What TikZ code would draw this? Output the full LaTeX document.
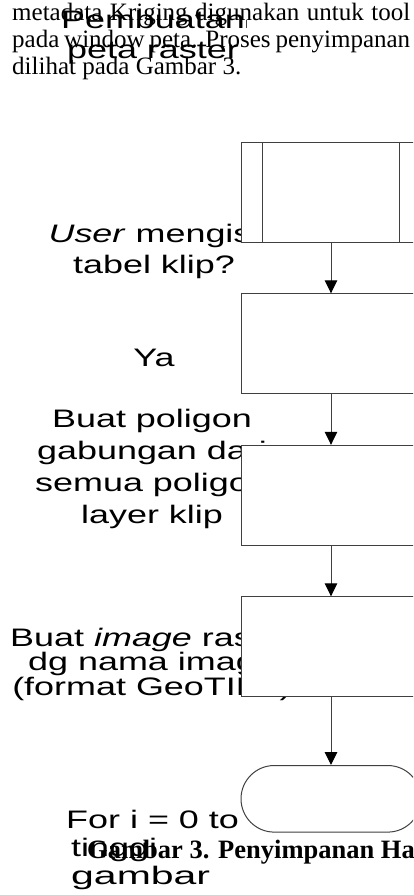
\documentclass[tikz,border=0pt]{standalone}
\usepackage{fontspec}
\setmainfont{Liberation Serif}
\newfontfamily\lblfont[FakeStretch=1.42]{Liberation Sans}
\newfontfamily\lblwide[FakeStretch=1.62]{Liberation Sans}
\usetikzlibrary{arrows.meta,positioning}
\definecolor{Ink}{HTML}{000000}
\definecolor{Line}{HTML}{404040}

\begin{document}
\begin{tikzpicture}[x=1pt,y=-1pt,node distance=50.5pt,>={Triangle[width=12.5pt,length=13pt,color=Ink]}]
\tikzset{flowbox/.style={draw=Line,line width=1pt,fill=white,minimum width=180pt,minimum height=100pt,inner sep=0pt}, arrow/.style={->,line width=1pt,Line}, lbl/.style={anchor=base,align=center,inner sep=0pt,text=Ink,font=\lblfont\fontsize{25.3}{31}\selectfont}, bodytext/.style={anchor=base west,align=left,inner sep=0pt,text=Ink,font=\fontsize{25}{27}\selectfont}}
\path[use as bounding box,clip] (0,0) rectangle (413,895);
% text of the page
\node[bodytext] (para) at (12,74) {\makebox[398pt][s]{metadata Kriging digunakan untuk tool}\\\makebox[398pt][s]{pada window peta. Proses penyimpanan}\\dilihat pada Gambar 3.};
% labels of the chart
\node[lbl,font=\lblfont\fontsize{25.3}{30}\selectfont] (title) at (153,58) {Pembuatan\\peta raster};
\draw[Line,line width=0.6pt] (246.7,20) -- (246.7,28);
\node[lbl] (ask) at (154,273) {\textit{User} mengisi\\tabel klip?};
\node[lbl] (yes) at (154,366) {Ya};
\node[lbl,font=\lblfont\fontsize{25.3}{31.7}\selectfont] (union) at (152,523) {Buat poligon\\gabungan dari\\semua poligon\\layer klip};
\node[lbl,font=\lblfont\fontsize{25.3}{24.5}\selectfont] (img) at (152,695) {Buat \textit{image} raster\\dg nama image\\(format GeoTIFF)};
\node[lbl,anchor=base west,align=left,font=\lblfont\fontsize{25.3}{28}\selectfont] (loop) at (66,884) {For i = 0 to\\\hspace{5pt}tinggi\\\hspace{5pt}{\lblwide gambar}};
% boxes
\node[flowbox] (p1) at (331,192.3) {};
\draw[Line,line width=1pt] ([xshift=21.6pt]p1.north west) -- ([xshift=21.6pt]p1.south west);
\draw[Line,line width=1pt] ([xshift=-21.6pt]p1.north east) -- ([xshift=-21.6pt]p1.south east);
\node[flowbox,below=of p1] (p2) {};
\node[flowbox,below=of p2] (p3) {};
\node[flowbox,below=of p3] (p4) {};
\node[flowbox,below=67.7pt of p4,minimum height=66.6pt,rounded corners=33.3pt] (stop) {};
\draw[arrow] (p1) -- (p2);
\draw[arrow] (p2) -- (p3);
\draw[arrow] (p3) -- (p4);
\draw[arrow] (p4) -- (stop);
% caption
\node[anchor=base west,inner sep=0pt,text=Ink,font=\bfseries\fontsize{26.5}{30}\selectfont] (cap) at (87,858) {Gambar 3. Penyimpanan Ha};
\end{tikzpicture}
\end{document}
